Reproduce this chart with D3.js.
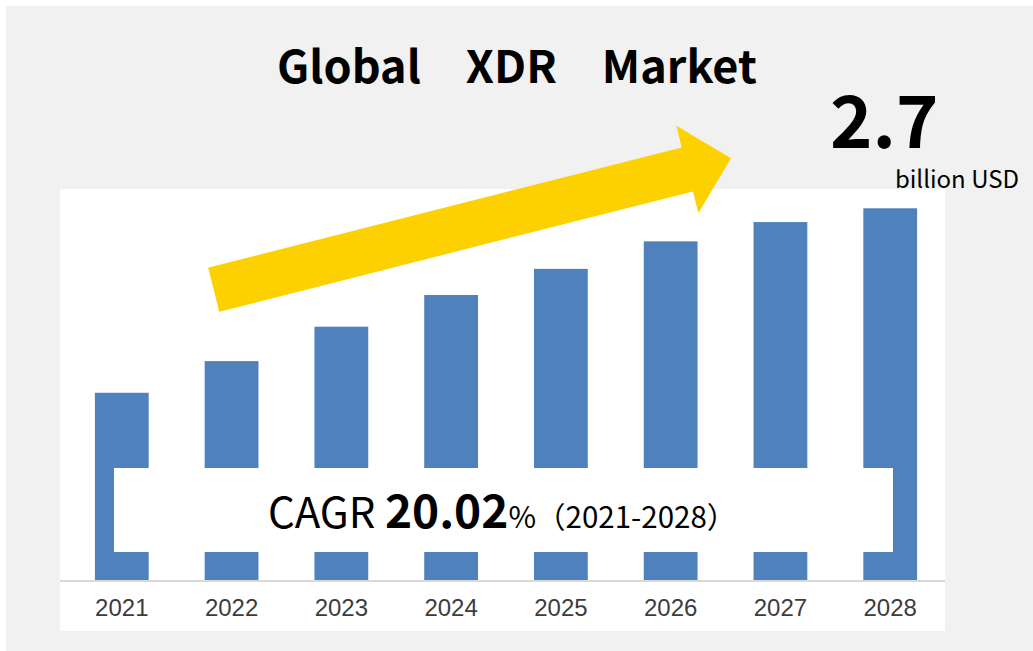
<!DOCTYPE html>
<html>
<head>
<meta charset="utf-8">
<script src="https://cdn.jsdelivr.net/npm/d3@7"></script>
<style>
  html, body { margin: 0; padding: 0; background: #ffffff; }
  svg { display: block; }
</style>
</head>
<body>
<div id="chart"></div>
<script>
// Market size by year (billion USD)
const years = ["2021", "2022", "2023", "2024", "2025", "2026", "2027", "2028"];
const marketSize = [1.36, 1.59, 1.84, 2.07, 2.26, 2.46, 2.60, 2.70];
const titleText = "Global\u3000XDR\u3000Market";
const headlineValue = "2.7";
const headlineUnit = "billion USD";
const cagrLabel = ["CAGR ", "20.02", "%", "\uFF082021-2028\uFF09"];

const W = 1033, H = 651;
const svg = d3.select("#chart").append("svg")
  .attr("width", W).attr("height", H);

// page background
svg.append("rect").attr("x", 6).attr("y", 6)
  .attr("width", W - 6).attr("height", H - 6).attr("fill", "#f1f1f1");

// white plot panel
const panel = { x0: 60, x1: 945, y0: 189, y1: 631 };
svg.append("rect").attr("x", panel.x0).attr("y", panel.y0)
  .attr("width", panel.x1 - panel.x0).attr("height", panel.y1 - panel.y0)
  .attr("fill", "#ffffff");

const x = d3.scaleBand().domain(years).range([68, 944])
  .paddingInner(0.51).paddingOuter(0.245);
const y = d3.scaleLinear().domain([0, 2.7]).range([580, 208.3]);

// bars
svg.append("g").selectAll("rect").data(years).join("rect")
  .attr("x", d => x(d))
  .attr("y", (d, i) => y(marketSize[i]))
  .attr("width", x.bandwidth())
  .attr("height", (d, i) => y(0) - y(marketSize[i]))
  .attr("fill", "#4f81bd");

// category axis
const xAxis = svg.append("g").attr("transform", `translate(0,${y(0)})`)
  .call(d3.axisBottom(x).tickSize(0).tickPadding(19));
xAxis.select(".domain").remove();
svg.append("line").attr("x1", panel.x0).attr("x2", panel.x1)
  .attr("y1", y(0) + 1).attr("y2", y(0) + 1)
  .attr("stroke", "#d9d9d9").attr("stroke-width", 2);
xAxis.selectAll("text")
  .attr("font-family", "'Liberation Sans', Arial, sans-serif")
  .attr("font-size", 24).attr("fill", "#3c3c3c");

// growth arrow
(function drawArrow() {
  const tail = [213.7, 289.7], tip = [731, 158.3];
  const shaftHalf = 22.7, headHalf = 44.9, headLen = 45;
  const dx = tip[0] - tail[0], dy = tip[1] - tail[1];
  const len = Math.hypot(dx, dy);
  const ux = dx / len, uy = dy / len;
  const px = -uy, py = ux;
  const base = [tip[0] - ux * headLen, tip[1] - uy * headLen];
  const pt = (p, s) => [p[0] + px * s, p[1] + py * s];
  const pts = [
    pt(tail, -shaftHalf), pt(base, -shaftHalf), pt(base, -headHalf), tip,
    pt(base, headHalf), pt(base, shaftHalf), pt(tail, shaftHalf)
  ];
  svg.append("path").attr("d", d3.line()(pts) + "Z").attr("fill", "#fdd100");
})();

const cjk = "'Noto Sans CJK JP', 'Noto Sans', sans-serif";

// title
svg.append("text").attr("x", 517).attr("y", 83)
  .attr("text-anchor", "middle")
  .attr("font-family", cjk).attr("font-weight", 700).attr("font-size", 45)
  .attr("fill", "#000").text(titleText);

// headline value
svg.append("text").attr("x", 830).attr("y", 148)
  .attr("font-family", cjk).attr("font-weight", 700).attr("font-size", 72)
  .attr("fill", "#000").text(headlineValue);
svg.append("text").attr("x", 1019).attr("y", 188)
  .attr("text-anchor", "end")
  .attr("font-family", cjk).attr("font-size", 24)
  .attr("fill", "#000").text(headlineUnit);

// CAGR box
svg.append("rect").attr("x", 114).attr("y", 468)
  .attr("width", 779).attr("height", 84).attr("fill", "#ffffff");
const cagr = svg.append("text").attr("x", 268).attr("y", 528)
  .attr("font-family", cjk).attr("fill", "#000");
cagr.append("tspan").attr("font-size", 42).text(cagrLabel[0]);
cagr.append("tspan").attr("font-size", 46).attr("font-weight", 700).text(cagrLabel[1]);
cagr.append("tspan").attr("font-size", 30).text(cagrLabel[2]);
cagr.append("tspan").attr("font-size", 29.5).text(cagrLabel[3]);
</script>
</body>
</html>
